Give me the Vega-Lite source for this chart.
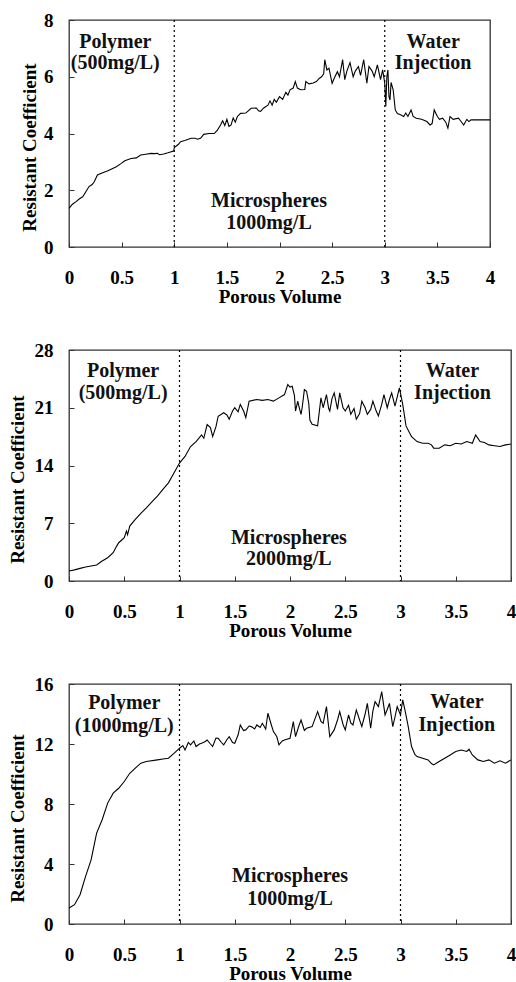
{
  "$schema": "https://vega.github.io/schema/vega-lite/v6.json",
  "background": "white",
  "padding": {"left": 7, "top": 10, "right": 5, "bottom": 0},
  "spacing": 33,
  "config": {
    "font": "Liberation Serif",
    "view": {"stroke": "#333", "strokeWidth": 1.3},
    "axis": {
      "grid": false, "domain": false,
      "labelFont": "Liberation Serif", "labelFontWeight": "bold", "labelFontSize": 19, "labelColor": "black",
      "titleFont": "Liberation Serif", "titleFontWeight": "bold", "titleFontSize": 19, "titleColor": "black",
      "tickColor": "#333", "tickSize": -5, "labelFlush": false, "labelOverlap": false
    },
    "axisX": {"labelPadding": 26, "titlePadding": 0},
    "axisY": {"labelPadding": 21, "titlePadding": 7, "titleFontSize": 19}
  },
  "vconcat": [
    {
      "width": 421, "height": 227,
      "layer": [
        {
          "data": {"values": [
            {"x":0,"y":1.36},{"x":0.03,"y":1.5},{"x":0.067,"y":1.6},{"x":0.1,"y":1.7},{"x":0.13,"y":1.77},{"x":0.16,"y":1.95},{"x":0.19,"y":2.13},{"x":0.22,"y":2.2},{"x":0.24,"y":2.3},{"x":0.27,"y":2.54},{"x":0.32,"y":2.62},{"x":0.37,"y":2.69},{"x":0.41,"y":2.76},{"x":0.45,"y":2.83},{"x":0.49,"y":2.93},{"x":0.53,"y":3.04},{"x":0.59,"y":3.12},{"x":0.64,"y":3.14},{"x":0.68,"y":3.24},{"x":0.73,"y":3.27},{"x":0.78,"y":3.3},{"x":0.81,"y":3.29},{"x":0.84,"y":3.3},{"x":0.86,"y":3.25},{"x":0.9,"y":3.28},{"x":0.94,"y":3.32},{"x":0.995,"y":3.38},{"x":1.0,"y":3.5},{"x":1.02,"y":3.56},{"x":1.04,"y":3.62},{"x":1.06,"y":3.71},{"x":1.1,"y":3.75},{"x":1.16,"y":3.83},{"x":1.2,"y":3.83},{"x":1.22,"y":3.8},{"x":1.25,"y":3.83},{"x":1.28,"y":3.97},{"x":1.33,"y":4.0},{"x":1.38,"y":4.0},{"x":1.41,"y":4.12},{"x":1.44,"y":4.3},{"x":1.46,"y":4.45},{"x":1.48,"y":4.28},{"x":1.5,"y":4.5},{"x":1.52,"y":4.25},{"x":1.54,"y":4.3},{"x":1.56,"y":4.55},{"x":1.58,"y":4.4},{"x":1.6,"y":4.6},{"x":1.63,"y":4.71},{"x":1.68,"y":4.72},{"x":1.73,"y":4.89},{"x":1.78,"y":4.9},{"x":1.8,"y":4.8},{"x":1.82,"y":4.78},{"x":1.85,"y":4.9},{"x":1.89,"y":5.0},{"x":1.91,"y":5.15},{"x":1.93,"y":5.0},{"x":1.95,"y":5.2},{"x":1.97,"y":5.1},{"x":2.0,"y":5.3},{"x":2.03,"y":5.2},{"x":2.06,"y":5.45},{"x":2.08,"y":5.35},{"x":2.1,"y":5.54},{"x":2.13,"y":5.6},{"x":2.15,"y":5.83},{"x":2.17,"y":5.6},{"x":2.2,"y":5.54},{"x":2.24,"y":5.55},{"x":2.25,"y":5.83},{"x":2.28,"y":5.75},{"x":2.32,"y":5.78},{"x":2.35,"y":5.83},{"x":2.38,"y":5.95},{"x":2.4,"y":6.0},{"x":2.42,"y":6.1},{"x":2.43,"y":6.6},{"x":2.45,"y":6.24},{"x":2.47,"y":6.3},{"x":2.5,"y":5.77},{"x":2.52,"y":5.95},{"x":2.55,"y":6.18},{"x":2.57,"y":6.0},{"x":2.6,"y":6.6},{"x":2.62,"y":5.9},{"x":2.64,"y":6.2},{"x":2.67,"y":6.5},{"x":2.7,"y":6.0},{"x":2.72,"y":6.2},{"x":2.75,"y":6.36},{"x":2.77,"y":6.05},{"x":2.8,"y":6.6},{"x":2.83,"y":5.77},{"x":2.85,"y":6.36},{"x":2.88,"y":6.2},{"x":2.9,"y":6.0},{"x":2.93,"y":6.42},{"x":2.96,"y":5.9},{"x":2.98,"y":6.24},{"x":3.0,"y":5.77},{"x":3.01,"y":4.95},{"x":3.02,"y":6.0},{"x":3.03,"y":6.24},{"x":3.04,"y":5.3},{"x":3.05,"y":5.18},{"x":3.06,"y":5.8},{"x":3.08,"y":5.54},{"x":3.1,"y":4.83},{"x":3.12,"y":4.7},{"x":3.15,"y":4.66},{"x":3.18,"y":4.6},{"x":3.2,"y":4.72},{"x":3.22,"y":4.6},{"x":3.25,"y":4.83},{"x":3.27,"y":4.6},{"x":3.3,"y":4.54},{"x":3.35,"y":4.5},{"x":3.4,"y":4.42},{"x":3.43,"y":4.3},{"x":3.45,"y":4.35},{"x":3.47,"y":4.83},{"x":3.5,"y":4.6},{"x":3.52,"y":4.5},{"x":3.55,"y":4.54},{"x":3.58,"y":4.4},{"x":3.6,"y":4.19},{"x":3.62,"y":4.6},{"x":3.65,"y":4.5},{"x":3.7,"y":4.54},{"x":3.72,"y":4.45},{"x":3.75,"y":4.3},{"x":3.78,"y":4.5},{"x":3.8,"y":4.42},{"x":3.82,"y":4.48},{"x":4.0,"y":4.48}
          ]},
          "mark": {"type": "line", "color": "black", "strokeWidth": 1.1},
          "encoding": {
            "x": {"field": "x", "type": "quantitative", "scale": {"domain": [0, 4], "nice": false}, "axis": {"title": "Porous Volume", "values": [0,0.5,1,1.5,2,2.5,3,3.5,4], "labelExpr": "'' + datum.value"}},
            "y": {"field": "y", "type": "quantitative", "scale": {"domain": [0, 8], "nice": false}, "axis": {"title": "Resistant Coefficient", "values": [0,2,4,6,8], "titleY": 127, "titlePadding": 4}}
          }
        },
        {
          "data": {"values": [{"x": 1}, {"x": 3}]},
          "mark": {"type": "rule", "color": "black", "strokeDash": [2, 3], "strokeWidth": 1.2},
          "encoding": {"x": {"field": "x", "type": "quantitative"}}
        },
        {
          "data": {"values": [
            {"x": 0.44, "y": 7.24, "t": "Polymer"}, {"x": 0.44, "y": 6.47, "t": "(500mg/L)"},
            {"x": 1.9, "y": 1.61, "t": "Microspheres"}, {"x": 1.9, "y": 0.84, "t": "1000mg/L"},
            {"x": 3.46, "y": 7.24, "t": "Water"}, {"x": 3.46, "y": 6.47, "t": "Injection"}
          ]},
          "mark": {"type": "text", "font": "Liberation Serif", "fontWeight": "bold", "fontSize": 20, "color": "#111", "align": "center", "baseline": "middle"},
          "encoding": {"x": {"field": "x", "type": "quantitative"}, "y": {"field": "y", "type": "quantitative"}, "text": {"field": "t"}}
        }
      ]
    },
    {
      "width": 442, "height": 231,
      "layer": [
        {
          "data": {"values": [
            {"x":0,"y":1.21},{"x":0.05,"y":1.35},{"x":0.1,"y":1.53},{"x":0.15,"y":1.7},{"x":0.2,"y":1.82},{"x":0.25,"y":1.94},{"x":0.3,"y":2.42},{"x":0.35,"y":2.82},{"x":0.4,"y":3.43},{"x":0.43,"y":4.2},{"x":0.45,"y":4.64},{"x":0.48,"y":5.0},{"x":0.5,"y":5.24},{"x":0.52,"y":6.05},{"x":0.53,"y":5.6},{"x":0.55,"y":6.66},{"x":0.6,"y":7.46},{"x":0.65,"y":8.2},{"x":0.7,"y":8.87},{"x":0.75,"y":9.6},{"x":0.8,"y":10.29},{"x":0.85,"y":11.1},{"x":0.9,"y":11.9},{"x":0.95,"y":13.1},{"x":1.0,"y":14.3},{"x":1.05,"y":15.1},{"x":1.1,"y":16.3},{"x":1.15,"y":16.9},{"x":1.2,"y":17.7},{"x":1.22,"y":17.3},{"x":1.25,"y":18.96},{"x":1.28,"y":18.6},{"x":1.3,"y":17.5},{"x":1.33,"y":18.7},{"x":1.35,"y":19.97},{"x":1.4,"y":20.4},{"x":1.43,"y":20.1},{"x":1.45,"y":19.6},{"x":1.48,"y":20.6},{"x":1.5,"y":21.0},{"x":1.53,"y":20.5},{"x":1.55,"y":21.4},{"x":1.58,"y":20.6},{"x":1.6,"y":19.8},{"x":1.63,"y":21.8},{"x":1.7,"y":22.0},{"x":1.75,"y":21.9},{"x":1.8,"y":22.0},{"x":1.85,"y":21.8},{"x":1.9,"y":22.2},{"x":1.95,"y":22.6},{"x":1.98,"y":23.8},{"x":2.0,"y":23.5},{"x":2.02,"y":23.6},{"x":2.04,"y":22.5},{"x":2.05,"y":20.6},{"x":2.07,"y":21.8},{"x":2.08,"y":21.2},{"x":2.1,"y":20.2},{"x":2.11,"y":21.0},{"x":2.13,"y":23.2},{"x":2.15,"y":23.0},{"x":2.17,"y":21.5},{"x":2.18,"y":19.5},{"x":2.2,"y":19.0},{"x":2.25,"y":18.8},{"x":2.28,"y":22.2},{"x":2.3,"y":21.0},{"x":2.33,"y":22.6},{"x":2.35,"y":20.9},{"x":2.36,"y":20.6},{"x":2.38,"y":22.1},{"x":2.4,"y":22.8},{"x":2.43,"y":20.8},{"x":2.45,"y":22.8},{"x":2.48,"y":21.0},{"x":2.5,"y":20.6},{"x":2.53,"y":21.3},{"x":2.55,"y":20.2},{"x":2.58,"y":20.9},{"x":2.6,"y":19.6},{"x":2.63,"y":20.3},{"x":2.65,"y":21.8},{"x":2.68,"y":21.0},{"x":2.7,"y":20.2},{"x":2.73,"y":20.8},{"x":2.75,"y":21.8},{"x":2.78,"y":20.6},{"x":2.8,"y":20.0},{"x":2.83,"y":21.4},{"x":2.85,"y":22.6},{"x":2.88,"y":21.0},{"x":2.9,"y":22.0},{"x":2.92,"y":22.8},{"x":2.95,"y":21.2},{"x":2.97,"y":22.3},{"x":2.99,"y":23.4},{"x":3.02,"y":21.4},{"x":3.05,"y":18.8},{"x":3.08,"y":18.0},{"x":3.1,"y":17.5},{"x":3.15,"y":16.9},{"x":3.2,"y":16.7},{"x":3.25,"y":16.7},{"x":3.28,"y":16.5},{"x":3.3,"y":16.1},{"x":3.35,"y":16.1},{"x":3.4,"y":16.5},{"x":3.45,"y":16.4},{"x":3.5,"y":16.7},{"x":3.55,"y":16.6},{"x":3.6,"y":16.9},{"x":3.65,"y":16.7},{"x":3.68,"y":17.7},{"x":3.72,"y":16.9},{"x":3.76,"y":16.8},{"x":3.8,"y":16.5},{"x":3.85,"y":16.4},{"x":3.9,"y":16.3},{"x":3.95,"y":16.5},{"x":4.0,"y":16.6}
          ]},
          "mark": {"type": "line", "color": "black", "strokeWidth": 1.1},
          "encoding": {
            "x": {"field": "x", "type": "quantitative", "scale": {"domain": [0, 4], "nice": false}, "axis": {"title": "Porous Volume", "values": [0,0.5,1,1.5,2,2.5,3,3.5,4], "labelExpr": "'' + datum.value"}},
            "y": {"field": "y", "type": "quantitative", "scale": {"domain": [0, 28], "nice": false}, "axis": {"title": "Resistant Coefficient", "values": [0,7,14,21,28], "titleY": 129}}
          }
        },
        {
          "data": {"values": [{"x": 1}, {"x": 3}]},
          "mark": {"type": "rule", "color": "black", "strokeDash": [2, 3], "strokeWidth": 1.2},
          "encoding": {"x": {"field": "x", "type": "quantitative"}}
        },
        {
          "data": {"values": [
            {"x": 0.49, "y": 25.5, "t": "Polymer"}, {"x": 0.49, "y": 22.8, "t": "(500mg/L)"},
            {"x": 1.99, "y": 5.24, "t": "Microspheres"}, {"x": 1.99, "y": 2.62, "t": "2000mg/L"},
            {"x": 3.47, "y": 25.5, "t": "Water"}, {"x": 3.47, "y": 22.8, "t": "Injection"}
          ]},
          "mark": {"type": "text", "font": "Liberation Serif", "fontWeight": "bold", "fontSize": 20, "color": "#111", "align": "center", "baseline": "middle"},
          "encoding": {"x": {"field": "x", "type": "quantitative"}, "y": {"field": "y", "type": "quantitative"}, "text": {"field": "t"}}
        }
      ]
    },
    {
      "width": 442, "height": 240,
      "layer": [
        {
          "data": {"values": [
            {"x":0,"y":1.07},{"x":0.05,"y":1.29},{"x":0.1,"y":1.95},{"x":0.15,"y":3.17},{"x":0.2,"y":4.28},{"x":0.25,"y":6.06},{"x":0.3,"y":6.95},{"x":0.35,"y":8.06},{"x":0.4,"y":8.72},{"x":0.45,"y":9.05},{"x":0.5,"y":9.5},{"x":0.55,"y":10.05},{"x":0.6,"y":10.39},{"x":0.65,"y":10.72},{"x":0.7,"y":10.83},{"x":0.8,"y":10.94},{"x":0.85,"y":11.0},{"x":0.9,"y":11.05},{"x":0.95,"y":11.38},{"x":1.0,"y":11.72},{"x":1.03,"y":11.9},{"x":1.05,"y":11.6},{"x":1.08,"y":12.1},{"x":1.1,"y":11.94},{"x":1.13,"y":12.2},{"x":1.15,"y":11.83},{"x":1.18,"y":12.0},{"x":1.2,"y":12.05},{"x":1.23,"y":12.15},{"x":1.25,"y":12.27},{"x":1.28,"y":12.0},{"x":1.3,"y":11.83},{"x":1.33,"y":12.4},{"x":1.35,"y":12.38},{"x":1.38,"y":12.1},{"x":1.4,"y":11.94},{"x":1.43,"y":12.3},{"x":1.45,"y":12.49},{"x":1.48,"y":12.1},{"x":1.5,"y":12.05},{"x":1.53,"y":12.6},{"x":1.55,"y":13.27},{"x":1.58,"y":12.9},{"x":1.6,"y":12.94},{"x":1.63,"y":13.2},{"x":1.65,"y":13.16},{"x":1.68,"y":13.0},{"x":1.7,"y":13.27},{"x":1.73,"y":13.1},{"x":1.75,"y":13.38},{"x":1.78,"y":13.0},{"x":1.8,"y":14.05},{"x":1.83,"y":13.3},{"x":1.85,"y":12.83},{"x":1.88,"y":12.5},{"x":1.9,"y":11.94},{"x":1.93,"y":12.2},{"x":1.95,"y":12.27},{"x":2.0,"y":12.38},{"x":2.03,"y":13.49},{"x":2.05,"y":12.49},{"x":2.08,"y":13.2},{"x":2.1,"y":13.6},{"x":2.13,"y":12.9},{"x":2.15,"y":13.05},{"x":2.2,"y":13.16},{"x":2.25,"y":14.16},{"x":2.28,"y":13.5},{"x":2.3,"y":13.38},{"x":2.33,"y":14.49},{"x":2.36,"y":12.49},{"x":2.4,"y":12.94},{"x":2.43,"y":13.6},{"x":2.45,"y":14.16},{"x":2.48,"y":13.3},{"x":2.5,"y":12.94},{"x":2.53,"y":13.94},{"x":2.55,"y":13.4},{"x":2.57,"y":13.27},{"x":2.6,"y":14.27},{"x":2.63,"y":13.6},{"x":2.65,"y":13.16},{"x":2.68,"y":14.0},{"x":2.7,"y":14.71},{"x":2.73,"y":13.05},{"x":2.75,"y":14.2},{"x":2.77,"y":14.82},{"x":2.8,"y":14.49},{"x":2.83,"y":15.49},{"x":2.86,"y":13.94},{"x":2.88,"y":14.3},{"x":2.9,"y":14.71},{"x":2.93,"y":13.16},{"x":2.95,"y":13.8},{"x":2.97,"y":14.49},{"x":3.0,"y":13.94},{"x":3.02,"y":14.94},{"x":3.04,"y":14.27},{"x":3.07,"y":13.16},{"x":3.1,"y":11.83},{"x":3.13,"y":11.3},{"x":3.15,"y":11.16},{"x":3.2,"y":11.05},{"x":3.25,"y":10.94},{"x":3.28,"y":10.7},{"x":3.3,"y":10.61},{"x":3.35,"y":10.83},{"x":3.4,"y":11.05},{"x":3.45,"y":11.27},{"x":3.5,"y":11.5},{"x":3.55,"y":11.6},{"x":3.6,"y":11.5},{"x":3.62,"y":11.65},{"x":3.65,"y":11.27},{"x":3.7,"y":10.94},{"x":3.75,"y":10.83},{"x":3.8,"y":10.94},{"x":3.85,"y":10.72},{"x":3.9,"y":10.88},{"x":3.95,"y":10.72},{"x":4.0,"y":10.94}
          ]},
          "mark": {"type": "line", "color": "black", "strokeWidth": 1.1},
          "encoding": {
            "x": {"field": "x", "type": "quantitative", "scale": {"domain": [0, 4], "nice": false}, "axis": {"title": "Porous Volume", "values": [0,0.5,1,1.5,2,2.5,3,3.5,4], "labelExpr": "'' + datum.value"}},
            "y": {"field": "y", "type": "quantitative", "scale": {"domain": [0, 16], "nice": false}, "axis": {"title": "Resistant Coefficient", "values": [0,4,8,12,16], "titleY": 134}}
          }
        },
        {
          "data": {"values": [{"x": 1}, {"x": 3}]},
          "mark": {"type": "rule", "color": "black", "strokeDash": [2, 3], "strokeWidth": 1.2},
          "encoding": {"x": {"field": "x", "type": "quantitative"}}
        },
        {
          "data": {"values": [
            {"x": 0.5, "y": 14.71, "t": "Polymer"}, {"x": 0.5, "y": 13.23, "t": "(1000mg/L)"},
            {"x": 2.0, "y": 3.17, "t": "Microspheres"}, {"x": 2.0, "y": 1.66, "t": "1000mg/L"},
            {"x": 3.51, "y": 14.82, "t": "Water"}, {"x": 3.51, "y": 13.27, "t": "Injection"}
          ]},
          "mark": {"type": "text", "font": "Liberation Serif", "fontWeight": "bold", "fontSize": 20, "color": "#111", "align": "center", "baseline": "middle"},
          "encoding": {"x": {"field": "x", "type": "quantitative"}, "y": {"field": "y", "type": "quantitative"}, "text": {"field": "t"}}
        }
      ]
    }
  ]
}
